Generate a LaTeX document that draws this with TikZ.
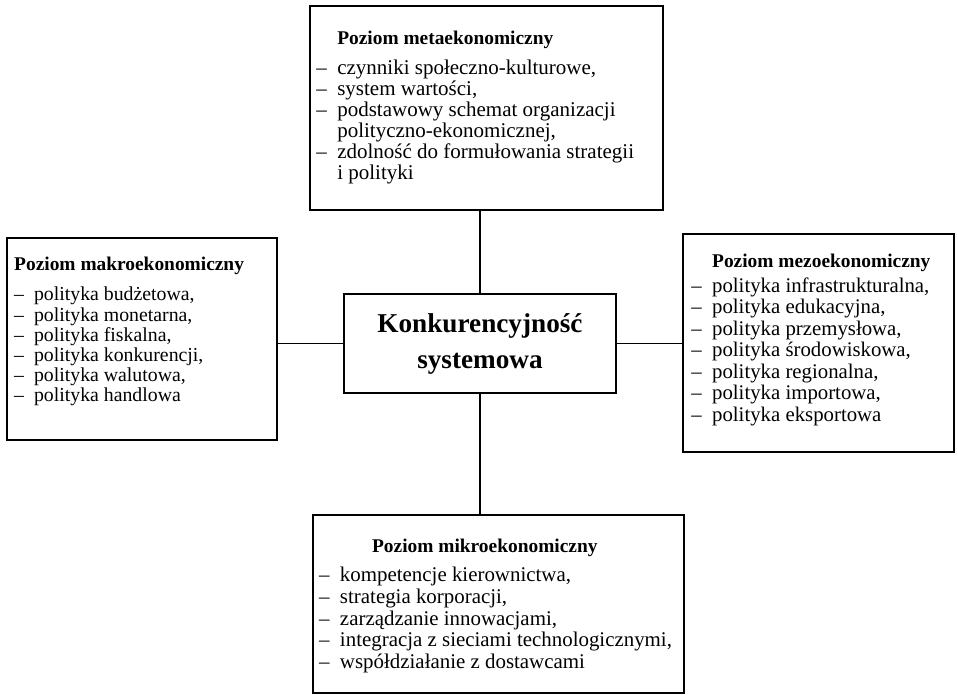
\documentclass[tikz,border=0pt]{standalone}
\usepackage{fontspec}
\setmainfont{Liberation Serif}
\usetikzlibrary{positioning}
\tikzset{
  levelbox/.style={draw, line width=1.1pt, inner sep=0pt},
  listtext/.style={align=left, inner sep=0pt, font=\fontsize{10.5}{10.5}\selectfont},
  link/.style={line width=0.6pt}
}
\begin{document}
\begin{tikzpicture}
  \useasboundingbox (0,0) rectangle (16.835,12.213);
  % Boxes
  \node[levelbox, minimum width=4.78cm, minimum height=1.74cm, align=center,
        font=\fontsize{13.6}{18}\selectfont\bfseries] (system) at (8.435,6.177)
        {Konkurencyjność\\systemowa};
  \node[levelbox, minimum width=6.2cm, minimum height=3.585cm] (meta) at (8.55,10.315) {};
  \node[levelbox, minimum width=4.745cm, minimum height=3.55cm] (makro) at (2.495,6.256) {};
  \node[levelbox, minimum width=4.763cm, minimum height=3.831cm] (mezo) at (14.383,6.186) {};
  \node[levelbox, minimum width=6.52cm, minimum height=3.128cm] (mikro) at (8.76,1.599) {};
  % Texts
  \node[listtext, below right=0.455cm and 0.12cm of meta.north west] (metatext) {%
    \hphantom{--\enspace}{\fontsize{9.7}{11}\selectfont\bfseries Poziom metaekonomiczny}\\[4.5pt]
    --\enspace czynniki społeczno-kulturowe,\\
    --\enspace system wartości,\\
    --\enspace podstawowy schemat organizacji\\
    \hphantom{--\enspace}polityczno-ekonomicznej,\\
    --\enspace zdolność do formułowania strategii\\
    \hphantom{--\enspace}i polityki};
  \node[listtext, font=\fontsize{9.9}{10.1}\selectfont,
        below right=0.35cm and 0.14cm of makro.north west] (makrotext) {%
    {\fontsize{9.7}{11}\selectfont\bfseries Poziom makroekonomiczny}\\[5pt]
    --\enspace polityka budżetowa,\\
    --\enspace polityka monetarna,\\
    --\enspace polityka fiskalna,\\
    --\enspace polityka konkurencji,\\
    --\enspace polityka walutowa,\\
    --\enspace polityka handlowa};
  \node[listtext, font=\fontsize{10.4}{10.75}\selectfont,
        below right=0.37cm and 0.16cm of mezo.north west] (mezotext) {%
    \hphantom{--\enspace}{\fontsize{9.7}{11}\selectfont\bfseries Poziom mezoekonomiczny}\\[1.5pt]
    --\enspace polityka infrastrukturalna,\\
    --\enspace polityka edukacyjna,\\
    --\enspace polityka przemysłowa,\\
    --\enspace polityka środowiskowa,\\
    --\enspace polityka regionalna,\\
    --\enspace polityka importowa,\\
    --\enspace polityka eksportowa};
  \node[listtext, font=\fontsize{10.45}{10.8}\selectfont,
        below right=0.43cm and 0.12cm of mikro.north west] (mikrotext) {%
    \hspace*{26.5pt}{\fontsize{9.7}{11}\selectfont\bfseries Poziom mikroekonomiczny}\\[4pt]
    --\enspace kompetencje kierownictwa,\\
    --\enspace strategia korporacji,\\
    --\enspace zarządzanie innowacjami,\\
    --\enspace integracja z sieciami technologicznymi,\\
    --\enspace współdziałanie z dostawcami};
  % Connectors
  \draw[link] (system.north) -- (system.north |- meta.south);
  \draw[link] (system.south) -- (system.south |- mikro.north);
  \draw[link] (system.west) -- (system.west -| makro.east);
  \draw[link] (system.east) -- (system.east -| mezo.west);
\end{tikzpicture}
\end{document}
